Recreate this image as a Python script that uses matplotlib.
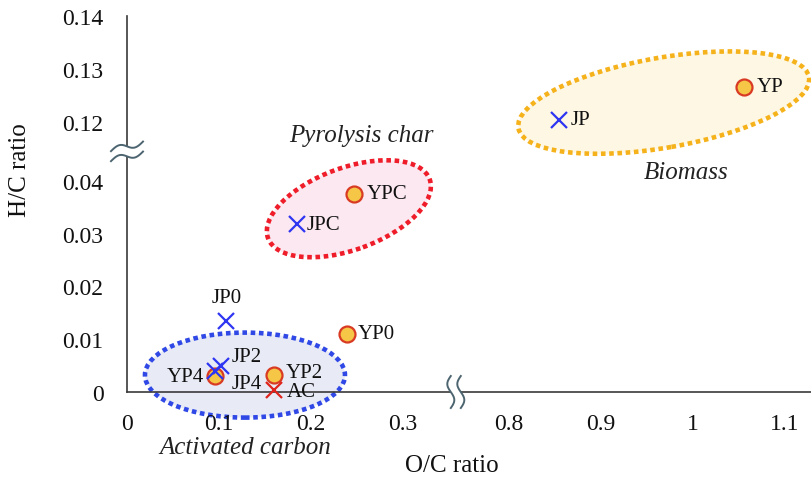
import numpy as np
import matplotlib
matplotlib.use('Agg')
import matplotlib.pyplot as plt
from matplotlib.patches import Ellipse, Polygon
from matplotlib.transforms import Affine2D, ScaledTranslation

plt.rcParams['font.family'] = ['Liberation Serif', 'DejaVu Serif']

# data
jp_names = ['JP', 'JPC', 'JP0', 'JP2', 'JP4']
jp_oc = [0.855, 0.185, 0.108, 0.102, 0.096]
jp_hc = [0.1204, 0.0318, 0.0135, 0.0049, 0.0040]

yp_names = ['YP', 'YPC', 'YP0', 'YP2', 'YP4']
yp_oc = [1.056, 0.247, 0.239, 0.160, 0.096]
yp_hc = [0.1266, 0.0375, 0.0110, 0.0032, 0.0030]

ac_names = ['AC']
ac_oc = [0.160]
ac_hc = [0.0003]

x_ticks = [0, 0.1, 0.2, 0.3, 0.8, 0.9, 1.0, 1.1]
x_ticklabels = ['0', '0.1', '0.2', '0.3', '0.8', '0.9', '1', '1.1']
y_ticks = [0, 0.01, 0.02, 0.03, 0.04, 0.12, 0.13, 0.14]
y_ticklabels = ['0', '0.01', '0.02', '0.03', '0.04', '0.12', '0.13', '0.14']

# groups: name, centre (O/C, H/C)
group_names = ['Biomass', 'Pyrolysis char', 'Activated carbon']
group_oc = [0.9687, 0.2413, 0.1283]
group_hc = [0.1236, 0.0347, 0.0032]


def broken(lo_end, hi_start, gap):
    # piecewise scale that cuts out (lo_end, hi_start)
    mid = lo_end + gap / 2

    def fwd(v):
        v = np.asarray(v, dtype=float)
        return np.where(v <= (lo_end + hi_start) / 2,
                        np.minimum(v, mid),
                        np.maximum(v - hi_start, -gap / 2) + lo_end + gap)

    def inv(t):
        t = np.asarray(t, dtype=float)
        return np.where(t <= mid, t, t - lo_end - gap + hi_start)
    return fwd, inv


fig = plt.figure(figsize=(8.12, 4.81), dpi=100)
ax = fig.add_axes([127 / 812, 88 / 481, 685 / 812, 376 / 481])

ax.set_xscale('function', functions=broken(0.3, 0.8, 0.115))
ax.set_yscale('function', functions=broken(0.04, 0.12, 0.0112))
ax.set_xlim(0, 1.13)
ax.set_ylim(0, 0.14)

ax.set_xticks(x_ticks)
ax.set_xticklabels(x_ticklabels)
ax.set_yticks(y_ticks)
ax.set_yticklabels(y_ticklabels)
ax.minorticks_off()
ax.tick_params(axis='both', length=0, labelsize=17, colors='#111111')
ax.tick_params(axis='x', pad=15)
ax.tick_params(axis='y', pad=17)

for s in ['top', 'right']:
    ax.spines[s].set_visible(False)
for s in ['left', 'bottom']:
    ax.spines[s].set_color('#3a3a3a')
    ax.spines[s].set_linewidth(1.2)

# markers
ax.plot(jp_oc, jp_hc, ls='none', marker='x', ms=11, mew=1.6, color='#2e36f2', zorder=4, clip_on=False)
ax.plot(yp_oc, yp_hc, ls='none', marker='o', ms=11.5, mew=1.6, mfc='#f6c646', mec='#d93a23', zorder=3, clip_on=False)
ax.plot(ac_oc, ac_hc, ls='none', marker='x', ms=11, mew=1.6, color='#e0231c', zorder=4, clip_on=False)

offsets = {
    'JP': (8, 0, 'left'), 'JPC': (7, 0, 'left'), 'JP0': (0, 17, 'center'),
    'JP2': (8, 7, 'left'), 'JP4': (12, -9, 'left'),
    'YP': (9, 0, 'left'), 'YPC': (9, 0, 'left'), 'YP0': (8, 0, 'left'),
    'YP2': (8, 2, 'left'), 'YP4': (-8, 0, 'right'), 'AC': (9, -1, 'left'),
}
for names, xs, ys in [(jp_names, jp_oc, jp_hc), (yp_names, yp_oc, yp_hc), (ac_names, ac_oc, ac_hc)]:
    for n, x, y in zip(names, xs, ys):
        dx, dy, ha = offsets[n]
        ax.annotate(n, (x, y), xytext=(dx, dy), textcoords='offset points',
                    ha=ha, va='center', fontsize=15, color='#111111', zorder=5,
                    annotation_clip=False)

# group ellipses (sizes in pixels) and italic captions
ring_style = {
    'Biomass': (295, 90, 10, '#f5b21a', '#fdf7e4', (16, -50)),
    'Pyrolysis char': (172, 82, 20, '#ef1c2a', '#fce8f0', (9, 53)),
    'Activated carbon': (200, 85, 0, '#2f48e6', '#e8ebf6', (0, -52)),
}
for g, x, y in zip(group_names, group_oc, group_hc):
    w, h, ang, ec, fc, toff = ring_style[g]
    cx, cy = ax.transData.transform((x, y))
    e = Ellipse((0, 0), w, h, angle=ang, transform=Affine2D().translate(cx, cy),
                facecolor=fc, edgecolor=ec, lw=3.3, ls=(0, (1, 0.8)), zorder=1, clip_on=False)
    ax.add_patch(e)
    ax.annotate(g, (x, y), xytext=toff, textcoords='offset points', ha='center', va='center',
                fontsize=18, style='italic', color='#222222', annotation_clip=False)


# axis break marks
def squiggle(xf, yf, vertical):
    tr = fig.dpi_scale_trans + ScaledTranslation(xf, yf, ax.transAxes)
    u = np.linspace(-0.16, 0.16, 60)
    w = -0.035 * np.sin(2 * np.pi * u / 0.32)
    sep = 0.05
    if vertical:
        a = np.column_stack([w - sep, u])
        b = np.column_stack([w + sep, u])
    else:
        a = np.column_stack([u, w + 0.3 * u - sep])
        b = np.column_stack([u, w + 0.3 * u + sep])
    ax.add_patch(Polygon(np.vstack([a, b[::-1]]), closed=True, fc='white', ec='none',
                         transform=tr, clip_on=False, zorder=6))
    for c in (a, b):
        ax.plot(c[:, 0], c[:, 1], color='#4d6570', lw=1.4, transform=tr, clip_on=False, zorder=7)


squiggle(0.480, 0.0, True)
squiggle(0.0, 0.64, False)

fig.text(20 / 812, 1 - 170 / 481, 'H/C ratio', rotation=90, ha='center', va='center',
         fontsize=18, color='#111111')
fig.text(452 / 812, 1 - 466 / 481, 'O/C ratio', ha='center', va='center',
         fontsize=18, color='#111111')

fig.savefig('out.png', dpi=100)
